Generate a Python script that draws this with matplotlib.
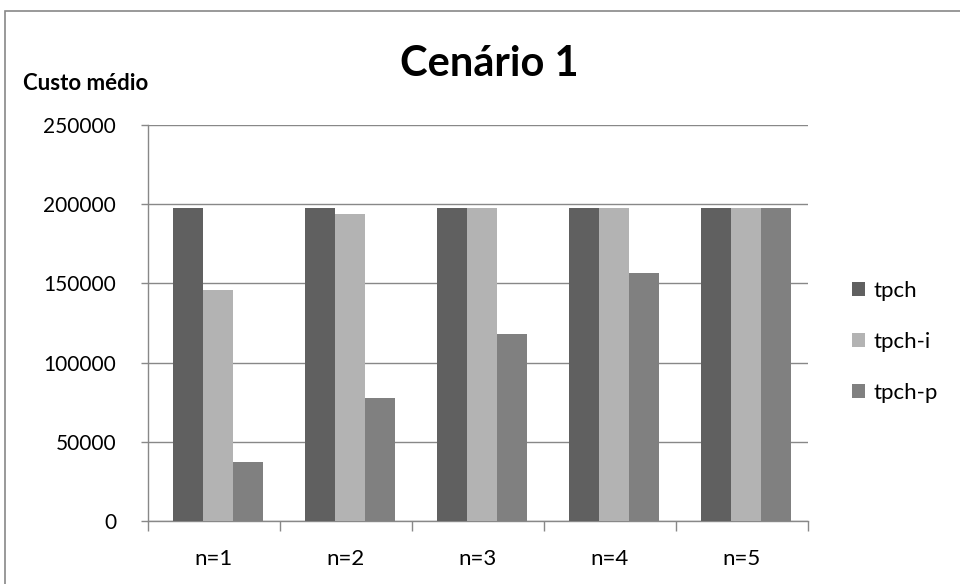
import numpy as np
import matplotlib.pyplot as plt
from matplotlib.patches import Rectangle

categories = ['n=1', 'n=2', 'n=3', 'n=4', 'n=5']
series = ['tpch', 'tpch-i', 'tpch-p']
tpch = [197500, 197500, 197500, 197500, 197500]
tpch_i = [145800, 194000, 197500, 197500, 197500]
tpch_p = [37200, 77700, 118000, 156500, 197500]
colors = ['#606060', '#b3b3b3', '#808080']

plt.rcParams['font.family'] = ['Lato', 'DejaVu Sans']

fig = plt.figure(figsize=(9.6, 5.84), dpi=100)
ax = fig.add_axes([148 / 960, 1 - 521 / 584, 660 / 960, 396 / 584])

x = np.arange(len(categories))
w = 0.225
for i, (vals, name) in enumerate(zip([tpch, tpch_i, tpch_p], series)):
    ax.bar(x + (i - 1) * w + 0.03, vals, width=w, color=colors[i], label=name, zorder=3)

ax.set_xlim(-0.5, len(categories) - 0.5)
ax.set_ylim(0, 250000)
ax.set_yticks(range(0, 250001, 50000))
ax.set_yticklabels([str(v) for v in range(0, 250001, 50000)], fontsize=15)
ax.set_xticks(x)
ax.set_xticklabels(categories, fontsize=16)
ax.set_xticks(np.arange(-0.5, len(categories)), minor=True)
ax.tick_params(axis='x', which='major', length=0, pad=20)
ax.tick_params(axis='x', which='minor', length=7, color='#888888', width=1)
ax.tick_params(axis='y', length=5, color='#888888', width=1, pad=18)
ax.grid(axis='y', color='#888888', linewidth=1, zorder=0)
for s in ['top', 'right']:
    ax.spines[s].set_visible(False)
for s in ['left', 'bottom']:
    ax.spines[s].set_color('#888888')
    ax.spines[s].set_linewidth(1)

fig.text(489 / 960, 1 - 64 / 584, 'Cenário 1', fontsize=30, fontweight='bold',
         ha='center', va='center')
fig.text(23 / 960, 1 - 84 / 584, 'Custo médio', fontsize=16, fontweight='bold',
         ha='left', va='center')

ax.legend(loc='center left', bbox_to_anchor=(832 / 960, 1 - 342 / 584),
          bbox_transform=fig.transFigure, frameon=False, fontsize=16,
          handlelength=0.6, handleheight=0.6, labelspacing=1.4, handletextpad=0.35)

# outer chart frame
fig.patches.append(Rectangle((5 / 960, -0.1), 1.0, 1 - 11 / 584 + 0.1,
                             transform=fig.transFigure, fill=False,
                             edgecolor='#888888', linewidth=1.2))

fig.savefig('out.png', dpi=100)
